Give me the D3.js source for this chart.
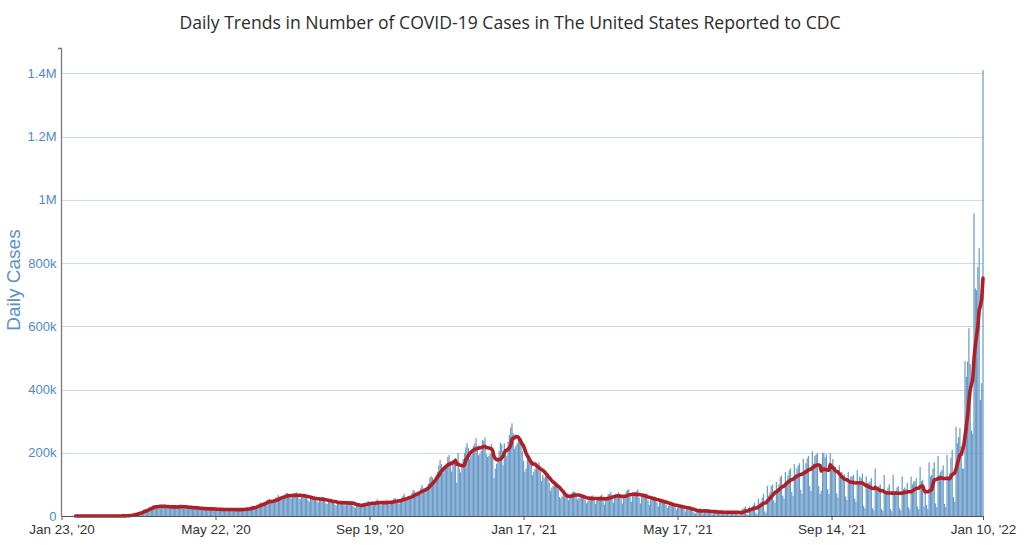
<!DOCTYPE html>
<html><head><meta charset="utf-8">
<script src="https://cdn.jsdelivr.net/npm/d3@7"></script>
<style>
html,body{margin:0;padding:0;background:#fff;}
svg{display:block;}
</style></head><body>
<svg id="chart" width="1024" height="545"></svg>
<script>
const chartTitle = "Daily Trends in Number of COVID-19 Cases in The United States Reported to CDC";
const yAxisTitle = "Daily Cases";
const firstDate = "2020-01-23";
const lastDate = "2022-01-10";
const avgStartDate = "2020-02-03";
const xTickDates = ["2020-01-23","2020-05-22","2020-09-19","2021-01-17","2021-05-17","2021-09-14","2022-01-10"];
const yTickValuesK = [0,200,400,600,800,1000,1200,1400];
const yTickLabels = ["0","200k","400k","600k","800k","1M","1.2M","1.4M"];
// daily new cases (thousands), one row per week starting Thursday
const dailyCasesK = [
0,0,0,0,0.001,0,0,
0,0.001,0.001,0,0,0,0,
0,0,0,0,0,0,0.001,
0,0,0,0,0,0,0,
0,0.002,0,0.001,0,0.001,0.003,
0.005,0.01,0.015,0.02,0.03,0.04,0.05,
0.1,0.12,0.15,0.2,0.35,0.45,0.6,
0.7,1.1,1.3,1.8,2.5,3.2,4.5,
5.5,7.2,8.5,9.2,10.5,11.2,12.5,
17,19,21,20,21,25,27,
30,33,34,28,26,28,32,
34,35,31,27,25,27,30,
31,33,29,26,25,27,29,
33,36,31,26,24,25,28,
30,31,28,24,22,23,26,
28,28,25,21,19,21,22,
27,25,24,20,19,20,22,
25,24,22,19,17,19,20,
23,24,22,18,17,19,21,
22,24,22,17,17,18,21,
23,25,24,19,18,22,24,
27,31,32,26,25,31,35,
39,43,42,38,37,43,49,
53,55,45,41,43,52,58,
61,66,61,55,54,61,66,
73,73,65,58,55,63,70,
73,75,66,55,54,61,70,
68,70,60,50,46,55,58,
61,64,55,46,43,52,56,
58,60,50,40,38,47,52,
50,52,44,36,33,40,45,
47,49,43,34,33,40,44,
44,48,42,33,28,26,35,
38,41,38,30,30,37,40,
44,48,42,35,33,40,42,
46,53,45,36,33,41,42,
46,52,48,35,37,42,47,
56,57,50,43,39,45,58,
64,70,56,49,52,60,63,
73,82,80,61,66,73,79,
90,98,87,74,84,90,102,
121,126,122,104,116,131,140,
160,178,164,136,146,156,165,
187,193,174,141,168,180,184,
105,200,150,138,158,180,200,
217,230,215,180,190,205,222,
230,246,220,192,196,205,240,
238,249,196,187,190,197,228,
198,120,150,165,185,205,232,
226,160,230,210,190,235,256,
280,293,262,213,222,230,240,
235,245,205,175,140,150,185,
190,185,170,130,140,150,155,
160,170,140,110,130,120,125,
125,135,105,80,90,95,100,
105,100,85,60,55,62,70,
65,72,60,50,55,68,75,
78,76,62,52,55,58,66,
67,68,52,40,46,57,61,
64,65,55,38,48,54,60,
64,68,50,36,50,55,70,
70,76,62,42,58,64,70,
75,70,55,40,60,66,78,
82,85,60,45,66,68,76,
78,84,58,40,62,62,70,
66,72,50,35,52,52,60,
62,60,42,30,45,44,50,
50,52,36,25,32,36,40,
40,42,30,20,26,28,33,
33,36,22,14,22,24,27,
26,24,14,10,8,16,20,
22,24,12,8,12,16,18,
18,20,9,6,12,14,15,
16,17,6,5,12,13,14,
15,17,5,4,14,13,15,
16,15,4,3,2,20,24,
26,30,6,4,30,25,30,
35,42,10,6,55,40,45,
58,70,15,10,95,65,75,
95,100,50,42,108,87,100,
123,128,64,54,139,112,128,
145,151,76,63,164,132,151,
160,167,83,70,181,146,167,
182,190,95,79,205,166,190,
195,200,95,70,80,200,200,
185,195,85,70,199,160,180,
150,155,72,58,160,130,140,
128,132,62,50,140,112,125,
125,130,55,45,145,110,125,
120,135,32,24,125,105,105,
110,120,25,18,150,85,90,
95,100,22,16,130,72,78,
90,100,22,15,130,72,78,
90,95,25,18,125,85,90,
85,105,28,20,125,100,110,
110,120,30,22,155,110,115,
30,70,35,22,170,125,130,
150,170,40,28,190,130,140,
145,160,38,28,193,125,135,
185,210,60,45,282,230,250,
278,220,150,150,490,440,488,
594,480,270,260,957,720,714,
787,847,367,420,1410
];

const parse = d3.utcParse("%Y-%m-%d");
const fmt = d3.utcFormat("%b %-d, '%y");
const start = parse(firstDate);
const days = dailyCasesK.map((v, i) => ({date: d3.utcDay.offset(start, i), value: v}));

// trailing 7-day average
const avgStart = parse(avgStartDate);
const avg = [];
days.forEach((d, i) => {
  if (i < 6 || d.date < avgStart) return;
  avg.push({date: d.date, value: d3.mean(dailyCasesK.slice(i - 6, i + 1))});
});

const svg = d3.select("#chart");
const x = d3.scaleUtc().domain([parse(firstDate), parse(lastDate)]).range([61.5, 983]);
const y = d3.scaleLinear().domain([0, 1480]).range([516, 48]);

// title
svg.append("text")
  .attr("x", 510).attr("y", 29)
  .attr("text-anchor", "middle")
  .attr("font-family", "'Open Sans', sans-serif")
  .attr("font-size", 17.6)
  .attr("fill", "#2b2b2b")
  .text(chartTitle);

// gridlines
svg.append("g").selectAll("line")
  .data(yTickValuesK.filter(v => v > 0))
  .join("line")
  .attr("x1", 62).attr("x2", 984)
  .attr("y1", d => Math.round(y(d)) + 0.5).attr("y2", d => Math.round(y(d)) + 0.5)
  .attr("stroke", "#c8dbee").attr("stroke-width", 1);

// bars
const step = x(d3.utcDay.offset(start, 1)) - x(start);
const bw = step * 0.95;
svg.append("g").selectAll("rect")
  .data(days)
  .join("rect")
  .attr("x", d => x(d.date) - bw / 2)
  .attr("width", bw)
  .attr("y", d => y(d.value))
  .attr("height", d => y(0) - y(d.value))
  .attr("fill", "#6a9bc8");

// 7-day average line
svg.append("path")
  .datum(avg)
  .attr("fill", "none")
  .attr("stroke", "#b01f24")
  .attr("stroke-width", 3.6)
  .attr("stroke-linejoin", "round")
  .attr("stroke-linecap", "round")
  .attr("d", d3.line().x(d => x(d.date)).y(d => y(d.value)));

// y axis
const yAxis = d3.axisLeft(y).tickValues(yTickValuesK).tickSize(0).tickPadding(5)
  .tickFormat((d, i) => yTickLabels[i]);
const gy = svg.append("g").attr("transform", "translate(61.5,0)").call(yAxis);
gy.select(".domain").remove();
gy.selectAll("text").attr("fill", "#4d8ac6").attr("font-family", "Arial, 'Liberation Sans', sans-serif").attr("font-size", 13);
svg.append("path").attr("d", "M58,48.5H61.5V516").attr("fill", "none").attr("stroke", "#7a7a7a").attr("stroke-width", 1.3);

// x axis
const xAxis = d3.axisBottom(x).tickValues(xTickDates.map(parse)).tickSize(4).tickPadding(4).tickFormat(fmt);
const gx = svg.append("g").attr("transform", "translate(0,516)").call(xAxis);
gx.select(".domain").attr("d", "M61.5,0.5H984").attr("stroke", "#555");
gx.selectAll(".tick line").attr("stroke", "#555");
gx.selectAll("text").attr("fill", "#333").attr("font-family", "Arial, 'Liberation Sans', sans-serif").attr("font-size", 13.5);

// y axis title
svg.append("text")
  .attr("transform", "translate(20,280) rotate(-90)")
  .attr("text-anchor", "middle")
  .attr("font-family", "Arial, 'Liberation Sans', sans-serif")
  .attr("font-size", 19)
  .attr("fill", "#5790c9")
  .text(yAxisTitle);
</script>
</body></html>
